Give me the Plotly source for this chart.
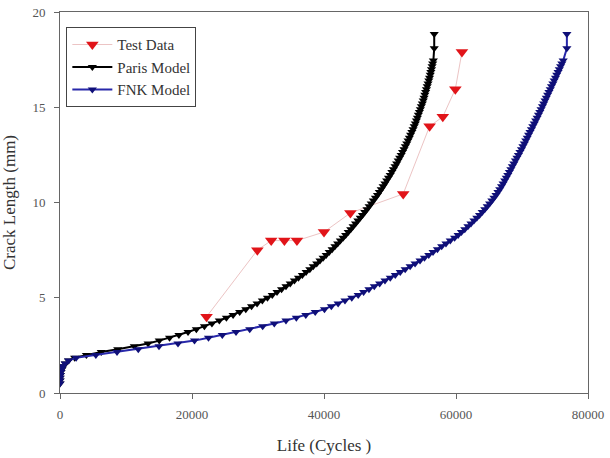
import plotly.graph_objects as go

# Test data
test_cycles = [22200, 29900, 32000, 34000, 35900, 40000, 44000, 52000, 56000, 58000, 59900, 60900]
test_crack = [4.0, 7.5, 8.0, 8.0, 8.0, 8.45, 9.45, 10.45, 14.0, 14.5, 15.95, 17.9]

# Crack lengths at which the model curves are plotted (mm)
model_crack = [
    0.5, 0.65, 0.8, 0.95, 1.1, 1.25, 1.4, 1.55, 1.7, 1.85,
    2.0, 2.15, 2.3, 2.45, 2.6, 2.75, 2.9, 3.05, 3.2, 3.35,
    3.5, 3.65, 3.8, 3.95, 4.1, 4.25, 4.4, 4.55, 4.7, 4.85,
    5.0, 5.15, 5.3, 5.45, 5.6, 5.75, 5.9, 6.05, 6.2, 6.35,
    6.5, 6.65, 6.8, 6.95, 7.1, 7.25, 7.4, 7.55, 7.7, 7.85,
    8.0, 8.15, 8.3, 8.45, 8.6, 8.75, 8.9, 9.05, 9.2, 9.35,
    9.5, 9.65, 9.8, 9.95, 10.1, 10.25, 10.4, 10.55, 10.7, 10.85,
    11.0, 11.15, 11.3, 11.45, 11.6, 11.75, 11.9, 12.05, 12.2, 12.35,
    12.5, 12.65, 12.8, 12.95, 13.1, 13.25, 13.4, 13.55, 13.7, 13.85,
    14.0, 14.15, 14.3, 14.45, 14.6, 14.75, 14.9, 15.05, 15.2, 15.35,
    15.5, 15.65, 15.8, 15.95, 16.1, 16.25, 16.4, 16.55, 16.7, 16.85,
    17.0, 17.15, 17.3, 17.45, 18.1, 18.85,
]

# Paris model life (cycles) at each crack length
paris_cycles = [
    0, 0, 10, 65, 150, 295, 510, 830, 1300, 2220,
    4000, 6250, 8750, 11260, 13350, 15040, 16600, 18020, 19400, 20660,
    21880, 23020, 24140, 25210, 26230, 27220, 28150, 29020, 29860, 30660,
    31430, 32160, 32880, 33570, 34240, 34880, 35520, 36130, 36720, 37290,
    37850, 38370, 38900, 39390, 39870, 40330, 40790, 41230, 41660, 42070,
    42480, 42890, 43280, 43670, 44050, 44410, 44780, 45130, 45490, 45830,
    46180, 46510, 46840, 47160, 47480, 47790, 48100, 48380, 48670, 48960,
    49230, 49500, 49770, 50030, 50280, 50520, 50770, 51010, 51240, 51460,
    51690, 51900, 52120, 52330, 52540, 52730, 52930, 53120, 53310, 53490,
    53670, 53840, 54000, 54150, 54300, 54450, 54600, 54750, 54900, 55040,
    55160, 55280, 55400, 55520, 55640, 55760, 55880, 55990, 56100, 56190,
    56290, 56380, 56470, 56570, 56700, 56700,
]

# FNK model life (cycles) at each crack length
fnk_cycles = [
    0, 0, 10, 50, 120, 250, 450, 780, 1300, 2450,
    5430, 8640, 11860, 15000, 17880, 20380, 22500, 24590, 26670, 28750,
    30710, 32470, 34240, 35810, 37240, 38670, 40070, 41110, 42140, 43180,
    44210, 45180, 46000, 46810, 47620, 48430, 49240, 50040, 50800, 51550,
    52300, 53050, 53800, 54550, 55220, 55870, 56520, 57180, 57830, 58480,
    59130, 59790, 60320, 60830, 61330, 61810, 62270, 62720, 63150, 63570,
    63970, 64360, 64730, 65090, 65430, 65750, 66060, 66350, 66630, 66900,
    67140, 67380, 67615, 67850, 68080, 68310, 68540, 68770, 69000, 69230,
    69460, 69690, 69920, 70140, 70360, 70570, 70790, 71000, 71210, 71430,
    71640, 71860, 72070, 72290, 72500, 72700, 72890, 73100, 73290, 73490,
    73680, 73890, 74080, 74280, 74470, 74680, 74870, 75070, 75260, 75460,
    75650, 75850, 76040, 76240, 76800, 76800,
]

x_ticks = [0, 20000, 40000, 60000, 80000]
y_ticks = [0, 5, 10, 15, 20]

FONT = "Liberation Serif"

fig = go.Figure()
fig.add_trace(go.Scatter(
    x=test_cycles, y=test_crack, mode="lines+markers", name="Test Data",
    line=dict(color="rgb(236,196,196)", width=1),
    marker=dict(symbol="triangle-down", size=11, color="rgb(225,20,25)", line=dict(width=0)),
))
fig.add_trace(go.Scatter(
    x=paris_cycles, y=model_crack, mode="lines+markers", name="Paris Model",
    line=dict(color="black", width=2),
    marker=dict(symbol="triangle-down", size=8, color="black", line=dict(width=0)),
))
fig.add_trace(go.Scatter(
    x=fnk_cycles, y=model_crack, mode="lines+markers", name="FNK Model",
    line=dict(color="rgb(40,40,170)", width=2),
    marker=dict(symbol="triangle-down", size=8, color="rgb(15,15,120)", line=dict(width=0)),
))

fig.update_layout(
    width=610, height=458,
    margin=dict(l=60, r=22, t=12, b=65, autoexpand=False),
    paper_bgcolor="white", plot_bgcolor="white",
    font=dict(family=FONT, size=13, color="#333"),
    showlegend=True,
    legend=dict(
        x=0.012, y=0.96, xanchor="left", yanchor="top",
        bgcolor="white", bordercolor="#444", borderwidth=1,
        font=dict(family=FONT, size=15, color="#333"),
        itemwidth=40, tracegroupgap=0,
    ),
    xaxis=dict(
        range=[0, 80000], tickvals=x_ticks, ticktext=[str(v) for v in x_ticks],
        showgrid=False, zeroline=False, automargin=False,
        showline=True, linecolor="#666", linewidth=1, mirror=True,
        ticks="outside", ticklen=5, tickcolor="#666", ticklabelstandoff=4,
        tickfont=dict(family=FONT, size=13, color="#555"),
        title=dict(text="Life (Cycles )", font=dict(family=FONT, size=17, color="#333"), standoff=18),
    ),
    yaxis=dict(
        range=[0, 20], tickvals=y_ticks, ticktext=[str(v) for v in y_ticks],
        showgrid=False, zeroline=False, automargin=False,
        showline=True, linecolor="#666", linewidth=1, mirror=True,
        ticks="outside", ticklen=5, tickcolor="#666", ticklabelstandoff=6,
        tickfont=dict(family=FONT, size=13, color="#555"),
        title=dict(text="Crack Length (mm)", font=dict(family=FONT, size=17, color="#333"), standoff=12),
    ),
)

fig.write_html("out.html")
